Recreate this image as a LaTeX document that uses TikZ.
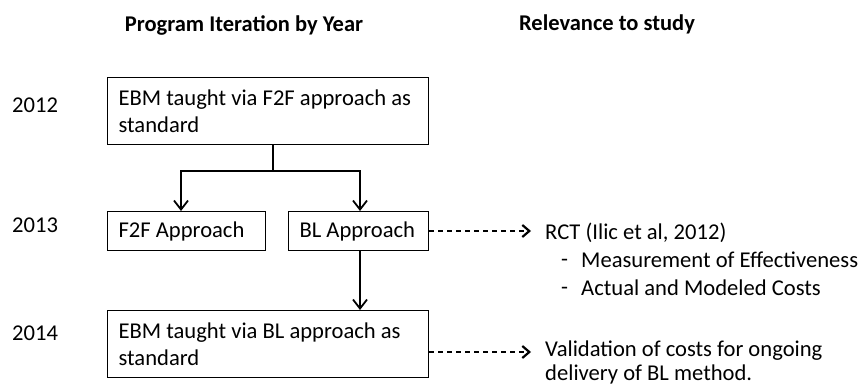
\documentclass[tikz,border=0pt]{standalone}
\usepackage{fontspec}
\setmainfont{Carlito}
\usetikzlibrary{arrows.meta}
\begin{document}
\begin{tikzpicture}[x=1pt,y=-1pt,
  every node/.style={font=\fontsize{22.6}{27}\selectfont, inner sep=0pt},
  box/.style={draw, line width=1.2pt, anchor=north west, align=flush left, inner xsep=11pt},
  head/.style={font=\fontsize{22.5}{26}\selectfont\bfseries},
  arr/.style={line width=1.2pt, -{Straight Barb[length=9pt,width=14pt,line width=1.8pt]}},
  darr/.style={line width=1.2pt, dash pattern=on 5pt off 4pt, -{Straight Barb[length=7pt,width=12pt,line width=2.2pt]}},
  lab/.style={anchor=west}]
\useasboundingbox (0,0) rectangle (859,385);
\node[head] (h1) at (244,25) {Program Iteration by Year};
\node[head] (h2) at (607,24) {Relevance to study};
\node[lab] (y12) at (12,105) {2012};
\node[lab] (y13) at (12,225) {2013};
\node[lab] (y14) at (12,333) {2014};
\node[box, text width=299pt, minimum height=67pt] (b1) at (107,77) {EBM taught via F2F approach as\\standard};
\node[box, text width=136pt, minimum height=39pt] (f2f) at (107,211) {F2F Approach};
\node[box, text width=118pt, minimum height=39pt] (bl) at (288,211) {BL Approach};
\node[box, text width=299pt, minimum height=67pt] (b3) at (107,310) {EBM taught via BL approach as\\standard};
\coordinate (j) at (273,171);
\coordinate (jl) at (181,171);
\coordinate (jr) at (360,171);
\draw[line width=1.2pt] (b1.south -| j) -- (j);
\draw[arr] (j) -- (jl) -- (jl |- f2f.north);
\draw[arr] (j) -- (jr) -- (jr |- bl.north);
\draw[arr] (jr |- bl.south) -- (jr |- b3.north);
\coordinate (e1) at (531,231);
\coordinate (e2) at (531,352);
\draw[darr] (bl.east |- e1) -- (e1);
\draw[darr] (b3.east |- e2) -- (e2);
\node[lab] (rct) at (545,233) {RCT (Ilic et al, 2012)};
\node[lab] (d1) at (561,263) {-};
\node[lab] (m1) at (581,260) {Measurement of Effectiveness};
\node[lab] (d2) at (561,291) {-};
\node[lab] (m2) at (581,288) {Actual and Modeled Costs};
\node[lab] (v1) at (545,351) {Validation of costs for ongoing};
\node[lab] (v2) at (545,374) {delivery of BL method.};
\end{tikzpicture}
\end{document}
